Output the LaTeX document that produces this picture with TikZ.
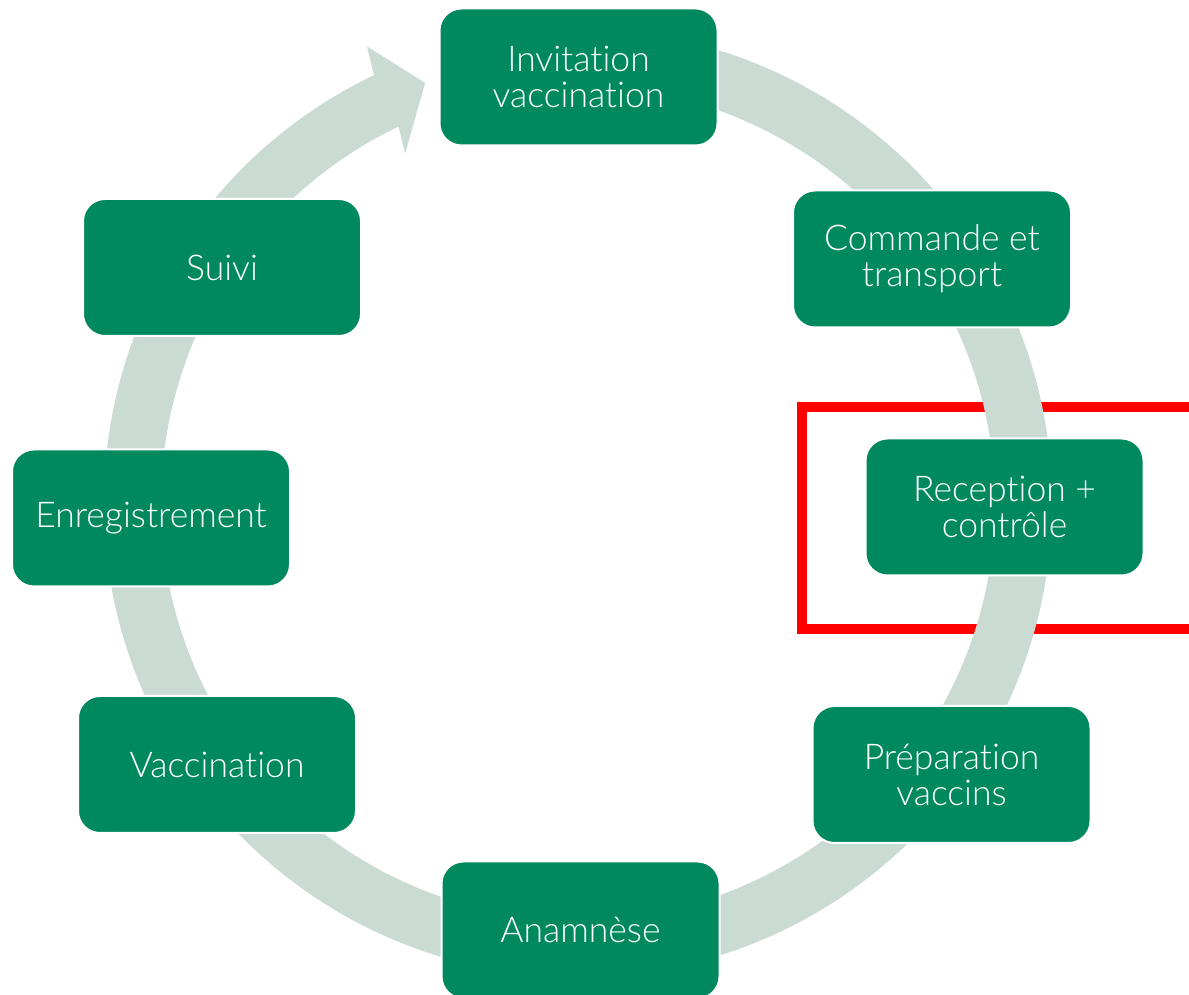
\documentclass[tikz,border=0pt]{standalone}
\usepackage{fontspec}
\setmainfont{Lato}[UprightFont={* Light}, Ligatures=NoCommon]
\definecolor{boxgreen}{HTML}{00895E}
\definecolor{ringgray}{HTML}{CADBD3}
\begin{document}
\begin{tikzpicture}[x=1pt,y=1pt,
  stagebox/.style={rectangle, rounded corners=22pt, fill=boxgreen, draw=white,
    line width=2pt, minimum width=278pt, minimum height=137pt, inner sep=0pt,
    text=white, align=center, font=\fontsize{35.5}{36}\selectfont},
  ringband/.style={fill=ringgray, draw=none},
  highlight/.style={draw=red, line width=10pt}]
\clip (0,0) rectangle (1189,995);
% highlight frame (behind the ring)
\draw[highlight] (1210,588) -- (802,588) -- (802,366) -- (1210,366);
% cycle band with arrow head
\begin{scope}[shift={(578,492)}]
\fill[ringband] (85:474) arc[start angle=85, end angle=-244.5, radius=474]
  -- (-245.2:503) -- (-250:447) -- (-243.7:390) -- (-244.5:417)
  arc[start angle=-244.5, end angle=85, radius=417] -- cycle;
\end{scope}
% stages
\node[stagebox] (inv)   at (578.5,918)  {Invitation\\vaccination};
\node[stagebox] (cmd)   at (932,736)    {Commande et\\transport};
\node[stagebox] (rec)   at (1004.5,488) {Reception +\\contrôle};
\node[stagebox] (prep)  at (951.5,220.5){Préparation\\vaccins};
\node[stagebox] (anam)  at (580.5,65)   {Anamnèse};
\node[stagebox] (vacc)  at (217,230.5)  {Vaccination};
\node[stagebox] (enreg) at (151,477)    {Enregistrement};
\node[stagebox] (suivi) at (222,727.5)  {Suivi};
\end{tikzpicture}
\end{document}
